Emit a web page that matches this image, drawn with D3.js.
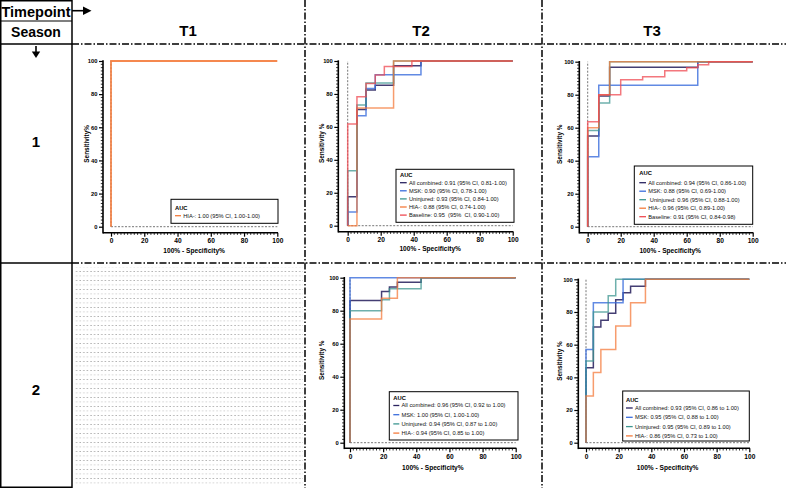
<!DOCTYPE html>
<html><head><meta charset="utf-8">
<script src="https://cdn.jsdelivr.net/npm/d3@7"></script>
<style>
html,body{margin:0;padding:0;background:#fff;}
svg{display:block;font-family:"Liberation Sans",Arial,sans-serif;}
</style></head>
<body><svg id="c" width="786" height="488"></svg>
<script>
// ---------- DATA ----------
const timepoints = ["T1", "T2", "T3"];
const seasons = ["1", "2"];
const xTicks = [0, 20, 40, 60, 80, 100];
const yTicks = [0, 20, 40, 60, 80, 100];
const seriesNames = ["All combined", "MSK", "Uninjured", "HIA-", "Baseline"];
const seriesColors = ["#2a2360", "#3a6ddc", "#3d9690", "#f47b3c", "#ef4a52"];
const seriesOpacity = [0.88, 0.8, 0.75, 0.75, 0.75];

// ROC points [100% - specificity, sensitivity]
// Season 1, T1
const s1t1HIA = [[0,0],[0,100],[100,100]];
// Season 1, T2
const s1t2All   = [[0,0],[0,17.6],[5.6,70.6],[11.1,82.4],[16.7,85.3],[27.8,97.1],[44.4,100],[100,100]];
const s1t2MSK   = [[0,0],[0,8.3],[5.6,66.7],[11.1,83.3],[16.7,91.7],[44.4,100],[100,100]];
const s1t2Uninj = [[0,0],[0,33.3],[5.6,73.3],[11.1,86.7],[27.8,100],[100,100]];
const s1t2HIA   = [[0,0],[5.6,71.4],[27.8,100],[100,100]];
const s1t2Base  = [[0,0],[0,61.7],[5.6,78.3],[11.1,86.4],[16.7,91.5],[22.2,96.6],[38.9,100],[100,100]];
// Season 1, T3
const s1t3All   = [[0,0],[0,55],[6.7,79.2],[13.3,96.6],[66.7,100],[100,100]];
const s1t3MSK   = [[0,0],[0,42.4],[6.7,85.7],[66.7,100],[100,100]];
const s1t3Uninj = [[0,0],[0,58.3],[6.7,75],[13.3,100],[100,100]];
const s1t3HIA   = [[0,0],[0,60],[6.7,80],[13.3,100],[100,100]];
const s1t3Base  = [[0,0],[0,63.6],[6.7,80],[20,89.1],[33.3,90.9],[46.7,94.5],[60,96.4],[66.7,98.2],[73.3,100],[100,100]];
// Season 2, T2
const s2t2All   = [[0,0],[0,86.2],[19.05,91.7],[23.8,94.4],[28.6,97.2],[42.9,100],[100,100]];
const s2t2MSK   = [[0,0],[0,100],[100,100]];
const s2t2Uninj = [[0,0],[0,80],[19.05,86.7],[23.8,93.3],[42.9,100],[100,100]];
const s2t2HIA   = [[0,0],[0,75],[19.05,87.5],[28.6,100],[100,100]];
// Season 2, T3
const s2t3All   = [[0,0],[0,45.8],[4.5,70.8],[9.1,75],[13.6,79.2],[18.2,87.5],[22.7,91.7],[27.3,95.8],[36.4,100],[100,100]];
const s2t3MSK   = [[0,0],[0,57.1],[4.5,85.7],[22.7,100],[100,100]];
const s2t3Uninj = [[0,0],[0,50],[4.5,80],[13.6,90],[18.2,100],[100,100]];
const s2t3HIA   = [[0,0],[0,28.6],[4.5,42.9],[9.1,57.1],[18.2,71.4],[27.3,85.7],[36.4,100],[100,100]];

// Legend labels
const s1t1Labels = ["HIA-: 1.00 (95% CI, 1.00-1.00)"];
const s1t2Labels = ["All combined: 0.91 (95% CI, 0.81-1.00)", "MSK: 0.90 (95% CI, 0.78-1.00)", "Uninjured: 0.93 (95% CI, 0.84-1.00)", "HIA-: 0.88 (95% CI, 0.74-1.00)", "Baseline: 0.95  (95%  CI, 0.90-1.00)"];
const s1t3Labels = ["All combined: 0.94 (95% CI, 0.86-1.00)", "MSK: 0.88 (95% CI, 0.69-1.00)", " Uninjured: 0.96 (95% CI, 0.88-1.00)", "HIA-: 0.96 (95% CI, 0.89-1.00)", "Baseline: 0.91 (95% CI, 0.84-0.98)"];
const s2t2Labels = ["All combined: 0.96 (95% CI, 0.92 to 1.00)", "MSK: 1.00 (95% CI, 1.00-1.00)", "Uninjured: 0.94 (95% CI, 0.87 to 1.00)", "HIA-: 0.94 (95% CI, 0.85 to 1.00)"];
const s2t3Labels = ["All combined: 0.93 (95% CI, 0.86 to 1.00)", "MSK: 0.95 (95% CI, 0.88 to 1.00)", "Uninjured: 0.95 (95% CI, 0.89 to 1.00)", "HIA-: 0.86 (95% CI, 0.73 to 1.00)"];

// ---------- LAYOUT ----------
const svg = d3.select("#c");
const W = 786, H = 488;
const colX = [0, 72, 305, 542, 786];
const rowY = [0, 44, 263, 488];

// dotted pattern for empty cell
const defs = svg.append("defs");
const pat = defs.append("pattern").attr("id","dots").attr("patternUnits","userSpaceOnUse")
  .attr("width", 7.2).attr("height", 9);
pat.append("rect").attr("x",0.5).attr("y",1).attr("width",1).attr("height",1).attr("fill","#8a8a8a");
pat.append("rect").attr("x",4.1).attr("y",1).attr("width",1).attr("height",1).attr("fill","#8a8a8a");
pat.append("rect").attr("x",0.3).attr("y",5.5).attr("width",1.6).attr("height",0.8).attr("fill","#c8c8c8");
pat.append("rect").attr("x",3.9).attr("y",5.5).attr("width",1.6).attr("height",0.8).attr("fill","#c8c8c8");
svg.append("rect").attr("x", colX[1]+2).attr("y", rowY[2]+4).attr("width", colX[2]-colX[1]-4).attr("height", H-rowY[2]-5)
  .attr("fill","url(#dots)");

const dashDot = "7,2,1.5,2";
const g = svg.append("g");
// left column solid lines
g.append("line").attr("x1",0.75).attr("x2",0.75).attr("y1",0).attr("y2",H).attr("stroke","#000").attr("stroke-width",1.5);
g.append("line").attr("x1",colX[1]).attr("x2",colX[1]).attr("y1",0).attr("y2",H).attr("stroke","#000").attr("stroke-width",1.5);
g.append("line").attr("x1",0).attr("x2",colX[1]).attr("y1",0.75).attr("y2",0.75).attr("stroke","#000").attr("stroke-width",1.5);
g.append("line").attr("x1",0).attr("x2",colX[1]).attr("y1",21).attr("y2",21).attr("stroke","#000").attr("stroke-width",1.2);
g.append("line").attr("x1",0).attr("x2",colX[1]).attr("y1",rowY[1]).attr("y2",rowY[1]).attr("stroke","#000").attr("stroke-width",1.5);
g.append("line").attr("x1",0).attr("x2",colX[1]).attr("y1",rowY[2]).attr("y2",rowY[2]).attr("stroke","#000").attr("stroke-width",1.5);
g.append("line").attr("x1",0).attr("x2",colX[1]).attr("y1",H-0.75).attr("y2",H-0.75).attr("stroke","#000").attr("stroke-width",1.5);
// dash-dot lines
g.append("line").attr("x1",colX[1]).attr("x2",W).attr("y1",rowY[1]).attr("y2",rowY[1]).attr("stroke","#000").attr("stroke-width",1.5).attr("stroke-dasharray",dashDot);
g.append("line").attr("x1",colX[1]).attr("x2",W).attr("y1",rowY[2]).attr("y2",rowY[2]).attr("stroke","#000").attr("stroke-width",1.5).attr("stroke-dasharray",dashDot);
[colX[2], colX[3]].forEach(x => {
  g.append("line").attr("x1",x).attr("x2",x).attr("y1",0).attr("y2",H).attr("stroke","#000").attr("stroke-width",1.5).attr("stroke-dasharray",dashDot);
});

// headers
svg.append("text").attr("x",36).attr("y",17.3).attr("text-anchor","middle").attr("font-weight","bold").attr("font-size",14.5).text("Timepoint");
svg.append("text").attr("x",36).attr("y",37).attr("text-anchor","middle").attr("font-weight","bold").attr("font-size",14).text("Season");
// arrows
svg.append("line").attr("x1",72).attr("x2",84).attr("y1",10.7).attr("y2",10.7).attr("stroke","#000").attr("stroke-width",1.6);
svg.append("path").attr("d","M83,6.5 L91.5,10.7 L83,14.9 Z").attr("fill","#000");
svg.append("line").attr("x1",36).attr("x2",36).attr("y1",46).attr("y2",52).attr("stroke","#000").attr("stroke-width",1.6);
svg.append("path").attr("d","M31.8,51.5 L40.2,51.5 L36,58 Z").attr("fill","#000");

const headX = [188, 421, 652];
timepoints.forEach((t,i) => svg.append("text").attr("x",headX[i]).attr("y",36).attr("text-anchor","middle")
  .attr("font-weight","bold").attr("font-size",15).text(t));
const rowLabelY = [147, 395];
seasons.forEach((s,i) => svg.append("text").attr("x",36).attr("y",rowLabelY[i]).attr("text-anchor","middle")
  .attr("font-weight","bold").attr("font-size",15).text(s));

// ---------- PANELS ----------
const panels = [
  {x0:111, x1:277.3, y0:226.7, y1:61, ax:103, ay:232.7, yTitle:"Sensitivity%", ytx:86.5, xty:253,
   series:[s1t1HIA], idx:[3], labels:s1t1Labels,
   leg:{x:171,y:199.3,w:107,h:24,aucY:207.5,r0:215.7,step:8,lx:175,lw:6}},
  {x0:347.7, x1:512.7, y0:225.7, y1:61, ax:338.3, ay:231.7, yTitle:"Sensitivity %", ytx:321.7, xty:251,
   series:[s1t2All,s1t2MSK,s1t2Uninj,s1t2HIA,s1t2Base], idx:[0,1,2,3,4], labels:s1t2Labels,
   leg:{x:396,y:169.3,w:118,h:53,aucY:175.3,r0:182.7,step:8.1,lx:400,lw:6.7}},
  {x0:587.7, x1:752.7, y0:226.7, y1:61.7, ax:579.3, ay:232.7, yTitle:"Sensitivity %", ytx:559.3, xty:253,
   series:[s1t3All,s1t3MSK,s1t3Uninj,s1t3HIA,s1t3Base], idx:[0,1,2,3,4], labels:s1t3Labels,
   leg:{x:634.3,y:166,w:118.4,h:58.3,aucY:173,r0:182.7,step:8.5,lx:639.3,lw:6.7}},
  {x0:350, x1:515.7, y0:442.7, y1:277.7, ax:344.3, ay:448.3, yTitle:"Sensitivity %", ytx:321.7, xty:469.5,
   series:[s2t2All,s2t2MSK,s2t2Uninj,s2t2HIA], idx:[0,1,2,3], labels:s2t2Labels,
   leg:{x:389.3,y:391.7,w:128.7,h:48.3,aucY:398,r0:405.5,step:9.2,lx:393.3,lw:6}},
  {x0:586, x1:749.3, y0:442.7, y1:279.3, ax:578.3, ay:448.3, yTitle:"Sensitivity %", ytx:559.3, xty:469.5,
   series:[s2t3All,s2t3MSK,s2t3Uninj,s2t3HIA], idx:[0,1,2,3], labels:s2t3Labels,
   leg:{x:622.7,y:391,w:126.6,h:50,aucY:399.5,r0:408,step:9.3,lx:626,lw:6.7}}
];

panels.forEach(p => {
  const x = d3.scaleLinear().domain([0,100]).range([p.x0, p.x1]);
  const y = d3.scaleLinear().domain([0,100]).range([p.y0, p.y1]);
  const pg = svg.append("g");

  // reference dashed lines
  pg.append("line").attr("x1",x(0)).attr("x2",x(100)).attr("y1",y(0)).attr("y2",y(0))
    .attr("stroke","#777").attr("stroke-width",1).attr("stroke-dasharray","2,1.5");
  pg.append("line").attr("x1",x(0)).attr("x2",x(0)).attr("y1",y(0)).attr("y2",y(100))
    .attr("stroke","#777").attr("stroke-width",1).attr("stroke-dasharray","2,1.5");

  // axes
  const xAxis = d3.axisBottom(x).tickValues(xTicks).tickSize(4).tickPadding(2);
  const xa = pg.append("g").attr("transform",`translate(0,${p.ay})`).call(xAxis);
  const yAxis = d3.axisLeft(y).tickValues(yTicks).tickSize(4).tickPadding(1.5);
  const ya = pg.append("g").attr("transform",`translate(${p.ax},0)`).call(yAxis);
  [xa, ya].forEach(a => {
    a.select(".domain").remove();
    a.selectAll(".tick line").attr("stroke","#000").attr("stroke-width",1.2);
    a.selectAll(".tick text").attr("font-weight","bold").attr("fill","#000")
      .attr("font-family","'Liberation Sans',Arial,sans-serif");
  });
  xa.selectAll(".tick text").attr("font-size",6.6);
  ya.selectAll(".tick text").attr("font-size",5.8);
  // minor ticks
  const minor = d3.range(0, 101, 2).filter(v => v % 20 !== 0);
  pg.selectAll(".mx").data(minor).join("line").attr("x1",d=>x(d)).attr("x2",d=>x(d))
    .attr("y1",p.ay).attr("y2",p.ay+2.2).attr("stroke","#000").attr("stroke-width",0.8);
  pg.selectAll(".my").data(minor).join("line").attr("y1",d=>y(d)).attr("y2",d=>y(d))
    .attr("x1",p.ax).attr("x2",p.ax-2.2).attr("stroke","#000").attr("stroke-width",0.8);
  // axis lines
  pg.append("line").attr("x1",p.ax).attr("x2",x(100)+0.7).attr("y1",p.ay).attr("y2",p.ay).attr("stroke","#000").attr("stroke-width",1.6);
  pg.append("line").attr("x1",p.ax).attr("x2",p.ax).attr("y1",y(100)-0.7).attr("y2",p.ay+0.8).attr("stroke","#000").attr("stroke-width",1.6);

  // titles
  pg.append("text").attr("x",(p.x0+p.x1)/2).attr("y",p.xty).attr("text-anchor","middle")
    .attr("font-weight","bold").attr("font-size",6.6).text("100% - Specificity%");
  pg.append("text").attr("transform",`translate(${p.ytx},${(p.y0+p.y1)/2}) rotate(-90)`)
    .attr("text-anchor","middle").attr("dy","0.35em").attr("font-weight","bold").attr("font-size",6.4).text(p.yTitle);

  // curves
  const line = d3.line().x(d=>x(d[0])).y(d=>y(d[1])).curve(d3.curveStepAfter);
  p.series.forEach((s,i) => {
    pg.append("path").attr("d", line(s)).attr("fill","none")
      .attr("stroke", seriesColors[p.idx[i]]).attr("stroke-width", p.series.length === 1 ? 1.8 : 1.5)
      .attr("stroke-opacity", p.series.length === 1 ? 0.9 : seriesOpacity[p.idx[i]]);
  });

  // legend
  const L = p.leg;
  pg.append("rect").attr("x",L.x).attr("y",L.y).attr("width",L.w).attr("height",L.h)
    .attr("fill","#fff").attr("stroke","#000").attr("stroke-width",1);
  pg.append("text").attr("x",L.lx).attr("y",L.aucY).attr("dy","0.35em").attr("font-size",5.8).attr("font-weight","bold").text("AUC");
  p.labels.forEach((lab,i) => {
    const yy = L.r0 + i*L.step;
    pg.append("line").attr("x1",L.lx).attr("x2",L.lx+L.lw).attr("y1",yy).attr("y2",yy)
      .attr("stroke",seriesColors[p.idx[i]]).attr("stroke-width",1.3);
    pg.append("text").attr("x",L.lx+L.lw+2.2).attr("y",yy).attr("dy","0.35em").attr("font-size",5.7)
      .attr("fill","#111").style("white-space","pre").text(lab);
  });
});
</script></body></html>
